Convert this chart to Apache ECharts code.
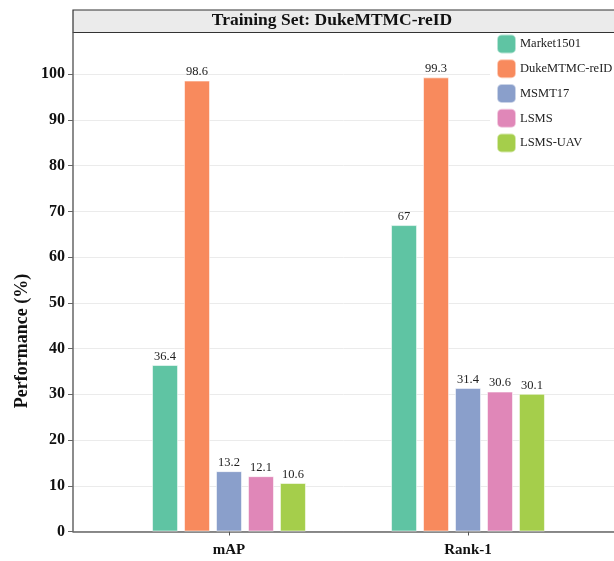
<!DOCTYPE html>
<html>
<head>
<meta charset="utf-8">
<script src="https://cdn.jsdelivr.net/npm/echarts@6/dist/echarts.min.js"></script>
<style>
  html, body { margin: 0; padding: 0; background: #fff; }
  #chart { width: 614px; height: 561px; }
</style>
</head>
<body>
<div id="chart"></div>
<script>
// metrics on the x axis
const metrics = ["mAP", "Rank-1"];
// one series per test set
const datasets = ["Market1501", "DukeMTMC-reID", "MSMT17", "LSMS", "LSMS-UAV"];
const market1501 = [36.4, 67];
const dukeMTMC = [98.6, 99.3];
const msmt17 = [13.2, 31.4];
const lsms = [12.1, 30.6];
const lsmsUav = [10.6, 30.1];
const yTicks = [0, 10, 20, 30, 40, 50, 60, 70, 80, 90, 100];

const colors = ["#5fc4a3", "#f88a5d", "#8a9fcb", "#e087b8", "#a5ce4b"];
const serif = "'Liberation Serif', 'Times New Roman', serif";
const yMax = 109;

const values = [market1501, dukeMTMC, msmt17, lsms, lsmsUav];

const chart = echarts.init(document.getElementById("chart"), null, { renderer: "canvas" });

const series = datasets.map((name, i) => ({
  name: name,
  type: "bar",
  xAxisIndex: 0,
  yAxisIndex: 0,
  data: values[i],
  barWidth: 26,
  barGap: "23%",
  itemStyle: {
    color: colors[i],
    borderColor: "rgba(255,255,255,0.55)",
    borderWidth: 1,
  },
  label: {
    show: true,
    position: "top",
    distance: 2,
    color: "#222",
    fontFamily: serif,
    fontSize: 12.5,
  },
}));

chart.setOption({
  animation: false,
  backgroundColor: "#fff",
  color: colors,
  title: {
    text: "Training Set: DukeMTMC-reID",
    left: 332,
    top: 11.5,
    textAlign: "center",
    padding: 0,
    textStyle: {
      fontFamily: serif,
      fontWeight: "bold",
      fontSize: 17.5,
      color: "#111",
    },
  },
  graphic: [
    {
      type: "rect",
      z: -1,
      shape: { x: 73, y: 10, width: 560, height: 22.5 },
      style: { fill: "#ebebeb", stroke: "#333", lineWidth: 1.2 },
    },
    {
      type: "text",
      x: 22,
      y: 341,
      rotation: Math.PI / 2,
      style: {
        text: "Performance (%)",
        fontFamily: serif,
        fontWeight: "bold",
        fontSize: 18,
        fill: "#111",
        align: "center",
        verticalAlign: "middle",
      },
    },
  ],
  legend: {
    data: datasets,
    orient: "vertical",
    left: 490,
    top: 33.5,
    padding: [0, 6, 8, 6],
    itemWidth: 19,
    itemHeight: 19,
    itemGap: 3.75,
    icon: "roundRect",
    backgroundColor: "#fff",
    textStyle: {
      fontFamily: serif,
      fontSize: 12.5,
      color: "#222",
      padding: [0, 0, 0, -1],
    },
  },
  grid: [
    // bars
    { left: 109.5, right: 26.5, top: 33, bottom: 29.5 },
    // frame: y axis, gridlines and x axis line
    { left: 73, right: -20, top: 33, bottom: 29.5 },
  ],
  xAxis: [
    {
      type: "category",
      gridIndex: 0,
      data: metrics,
      axisLine: { show: false },
      axisTick: {
        show: true,
        alignWithLabel: true,
        length: 4,
        lineStyle: { color: "#555" },
      },
      axisLabel: {
        margin: 11,
        fontFamily: serif,
        fontWeight: "bold",
        fontSize: 15,
        color: "#111",
      },
    },
    {
      type: "value",
      gridIndex: 1,
      min: 0,
      max: 1,
      axisLine: { show: true, lineStyle: { color: "#666", width: 1.5 } },
      axisTick: { show: false },
      axisLabel: { show: false },
      splitLine: { show: false },
    },
  ],
  yAxis: [
    {
      type: "value",
      gridIndex: 0,
      min: 0,
      max: yMax,
      show: false,
    },
    {
      type: "value",
      gridIndex: 1,
      min: 0,
      max: yMax,
      interval: 10,
      axisLine: { show: true, lineStyle: { color: "#666", width: 1.5 } },
      axisTick: { show: true, length: 5, customValues: yTicks, lineStyle: { color: "#666" } },
      axisLabel: {
        margin: 8,
        customValues: yTicks,
        fontFamily: serif,
        fontWeight: "bold",
        fontSize: 16,
        color: "#111",
      },
      splitLine: { show: true, lineStyle: { color: "#ebebeb", width: 1 } },
    },
  ],
  series: series,
});
</script>
</body>
</html>
